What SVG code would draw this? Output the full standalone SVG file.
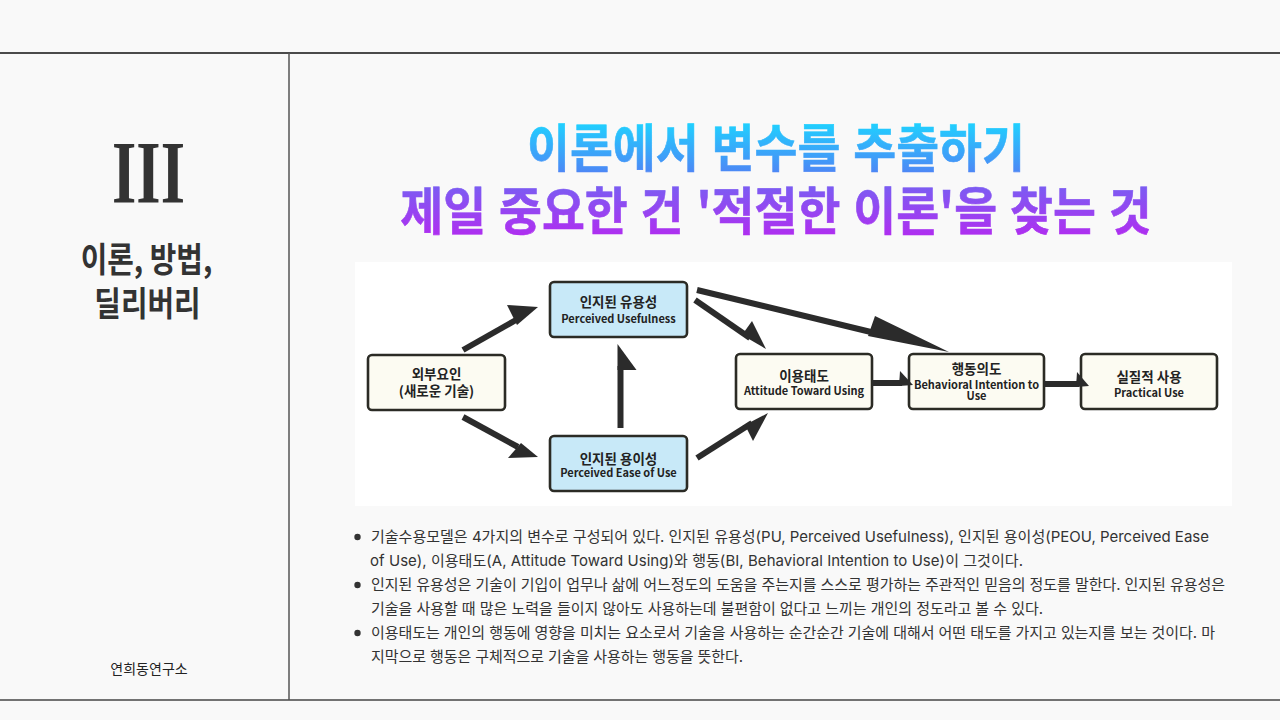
<svg xmlns="http://www.w3.org/2000/svg" width="1280" height="720" viewBox="0 0 1280 720">
<defs>
<linearGradient id="tg" gradientUnits="userSpaceOnUse" x1="0" y1="122" x2="0" y2="238">
<stop offset="0" stop-color="#1fd2ff"/>
<stop offset="0.42" stop-color="#4b8af6"/>
<stop offset="0.56" stop-color="#7c5cf2"/>
<stop offset="1" stop-color="#b22cf0"/>
</linearGradient>
<style>
.kr{font-family:"Noto Sans CJK KR","Noto Sans",sans-serif}
.title{font-family:"Noto Sans CJK KR",sans-serif;font-weight:700;font-size:51px;word-spacing:2.5px}
.side{font-family:"Noto Sans CJK KR",sans-serif;font-weight:700;font-size:34px;fill:#333}
.box{stroke:#2b2b25;stroke-width:2.6}
.cream{fill:#fcfbf2}
.blue{fill:#c8e9f8}
.nt{font-family:"Noto Sans CJK KR",sans-serif;font-weight:700;font-size:13.5px;fill:#222;text-anchor:middle}
.ne{font-family:"Noto Sans CJK KR",sans-serif;font-weight:700;font-size:11px;fill:#222;text-anchor:middle}
.body{font-family:Inter,"Noto Sans CJK KR",sans-serif;font-size:15px;fill:#333}
.shaft{stroke:#2b2b2b;stroke-width:6;fill:none}
.head{fill:#2b2b2b}
</style>
</defs>
<rect x="0" y="0" width="1280" height="720" fill="#f9f9f9"/>
<line x1="0" y1="53" x2="1280" y2="53" stroke="#111" stroke-width="1.5"/>
<line x1="0" y1="700" x2="1280" y2="700" stroke="#444" stroke-width="1.5"/>
<line x1="289" y1="53" x2="289" y2="700" stroke="#555" stroke-width="1.5"/>

<g id="side">
<text x="148.5" y="202" transform="translate(148.5 0) scale(0.71 1) translate(-148.5 0)" text-anchor="middle" font-family="'Liberation Serif',serif" font-weight="700" font-size="88" fill="#333">III</text>
<text class="side" x="146.5" y="272" text-anchor="middle" transform="translate(146.5 0) scale(0.85 1) translate(-146.5 0)">이론, 방법,</text>
<text class="side" x="147.5" y="316" text-anchor="middle" transform="translate(147.5 0) scale(0.85 1) translate(-147.5 0)">딜리버리</text>
<text class="kr" x="149" y="674" text-anchor="middle" font-size="14" fill="#222">연희동연구소</text>
</g>

<g id="title" fill="url(#tg)" stroke="url(#tg)" stroke-width="0.6">
<text class="title" x="776" y="167" text-anchor="middle" transform="translate(776 0) scale(0.915 1) translate(-776 0)">이론에서 변수를 추출하기</text>
<text class="title" x="776" y="230" text-anchor="middle" transform="translate(776 0) scale(0.915 1) translate(-776 0)">제일 중요한 건 '적절한 이론'을 찾는 것</text>
</g>

<rect x="355" y="262" width="877" height="244" fill="#ffffff"/>

<g id="node-external">
<rect class="box cream" x="368" y="355" width="137" height="55" rx="4"/>
<text class="nt" x="436.5" y="379">외부요인</text>
<text class="nt" x="436.5" y="396">(새로운 기술)</text>
</g>
<g id="node-pu">
<rect class="box blue" x="550" y="282" width="137" height="55" rx="4"/>
<text class="nt" x="618.5" y="307">인지된 유용성</text>
<text class="ne" x="618.5" y="323">Perceived Usefulness</text>
</g>
<g id="node-peou">
<rect class="box blue" x="550" y="436" width="137" height="55" rx="4"/>
<text class="nt" x="618.5" y="464">인지된 용이성</text>
<text class="ne" x="618.5" y="477">Perceived Ease of Use</text>
</g>
<g id="node-attitude">
<rect class="box cream" x="736" y="354" width="136" height="55" rx="4"/>
<text class="nt" x="804" y="381">이용태도</text>
<text class="ne" x="804" y="395">Attitude Toward Using</text>
</g>
<g id="node-intention">
<rect class="box cream" x="909" y="354" width="135" height="55" rx="4"/>
<text class="nt" x="976.5" y="374">행동의도</text>
<text class="ne" x="976.5" y="389">Behavioral Intention to</text>
<text class="ne" x="976.5" y="400">Use</text>
</g>
<g id="node-use">
<rect class="box cream" x="1081" y="354" width="136" height="55" rx="4"/>
<text class="nt" x="1149" y="382">실질적 사용</text>
<text class="ne" x="1149" y="397">Practical Use</text>
</g>

<g id="connectors">
<line class="shaft" x1="463" y1="350" x2="516" y2="320"/>
<polygon class="head" points="507,305 538,307 517,325"/>
<line class="shaft" x1="463" y1="417" x2="518" y2="447"/>
<polygon class="head" points="508,458 538,457 521,443"/>
<line class="shaft" x1="620.5" y1="428" x2="620.5" y2="366"/>
<polygon class="head" points="617.5,344 636.5,370 617.5,370"/>
<line class="shaft" x1="695" y1="300" x2="750" y2="338"/>
<polygon class="head" points="752,321 766,349 742,335"/>
<line class="shaft" x1="697" y1="290" x2="875" y2="333"/>
<polygon class="head" points="875,316 949,352 868,336"/>
<line class="shaft" x1="697" y1="458" x2="752" y2="423"/>
<polygon class="head" points="745,425 768,413 753,441"/>
<line class="shaft" x1="872" y1="383" x2="902" y2="383"/>
<polygon class="head" points="900,371 913,385 899,386"/>
<line class="shaft" x1="1044" y1="384" x2="1079" y2="384"/>
<polygon class="head" points="1077,372 1089,386 1076,387"/>
</g>

<g id="bullets">
<circle cx="357.5" cy="537" r="3.2" fill="#333"/>
<circle cx="357.5" cy="585" r="3.2" fill="#333"/>
<circle cx="357.5" cy="633" r="3.2" fill="#333"/>
<text class="body" x="371" y="542" textLength="838" lengthAdjust="spacing">기술수용모델은 4가지의 변수로 구성되어 있다. 인지된 유용성(PU, Perceived Usefulness), 인지된 용이성(PEOU, Perceived Ease</text>
<text class="body" x="370" y="566" textLength="653" lengthAdjust="spacing">of Use), 이용태도(A, Attitude Toward Using)와 행동(BI, Behavioral Intention to Use)이 그것이다.</text>
<text class="body" x="371" y="590" textLength="854" lengthAdjust="spacing">인지된 유용성은 기술이 기입이 업무나 삶에 어느정도의 도움을 주는지를 스스로 평가하는 주관적인 믿음의 정도를 말한다. 인지된 유용성은</text>
<text class="body" x="371" y="614" textLength="672" lengthAdjust="spacing">기술을 사용할 때 많은 노력을 들이지 않아도 사용하는데 불편함이 없다고 느끼는 개인의 정도라고 볼 수 있다.</text>
<text class="body" x="371" y="638" textLength="844" lengthAdjust="spacing">이용태도는 개인의 행동에 영향을 미치는 요소로서 기술을 사용하는 순간순간 기술에 대해서 어떤 태도를 가지고 있는지를 보는 것이다. 마</text>
<text class="body" x="371" y="662" textLength="372" lengthAdjust="spacing">지막으로 행동은 구체적으로 기술을 사용하는 행동을 뜻한다.</text>
</g>
</svg>
